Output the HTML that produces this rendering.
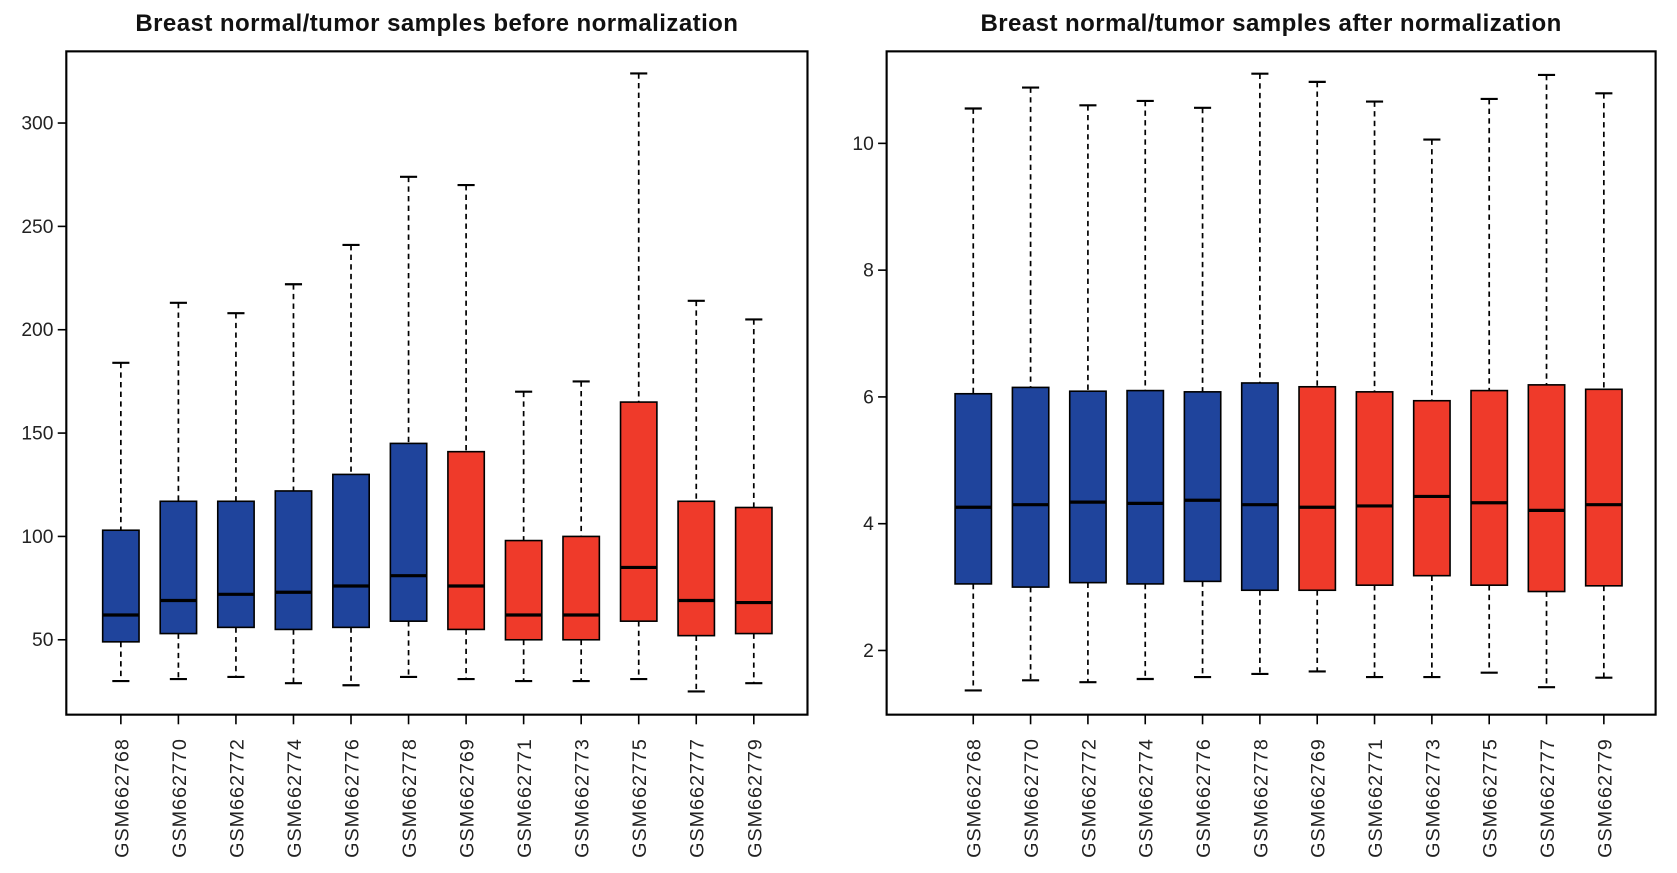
<!DOCTYPE html>
<html><head><meta charset="utf-8"><style>html,body{margin:0;padding:0;background:#fff}svg{display:block}</style></head>
<body>
<svg id="c" width="1677" height="873" viewBox="0 0 1568 816" preserveAspectRatio="none" xmlns="http://www.w3.org/2000/svg" font-family="'Liberation Sans', sans-serif"></svg>
<script>
const samples = ["GSM662768","GSM662770","GSM662772","GSM662774","GSM662776","GSM662778","GSM662769","GSM662771","GSM662773","GSM662775","GSM662777","GSM662779"];
const groups = ["normal","normal","normal","normal","normal","normal","tumor","tumor","tumor","tumor","tumor","tumor"];
const beforeLow = [30,31,32,29,28,32,31,30,30,31,25,29];
const beforeQ1 = [49,53,56,55,56,59,55,50,50,59,52,53];
const beforeMed = [62,69,72,73,76,81,76,62,62,85,69,68];
const beforeQ3 = [103,117,117,122,130,145,141,98,100,165,117,114];
const beforeHigh = [184,213,208,222,241,274,270,170,175,324,214,205];
const beforeTicks = [50,100,150,200,250,300];
const afterLow = [1.37,1.53,1.5,1.55,1.58,1.63,1.67,1.58,1.58,1.65,1.42,1.57];
const afterQ1 = [3.05,3.0,3.07,3.05,3.09,2.95,2.95,3.03,3.18,3.03,2.93,3.02];
const afterMed = [4.26,4.3,4.34,4.32,4.37,4.3,4.26,4.28,4.43,4.33,4.21,4.3];
const afterQ3 = [6.05,6.15,6.09,6.1,6.08,6.22,6.16,6.08,5.94,6.1,6.19,6.12];
const afterHigh = [10.55,10.88,10.6,10.67,10.56,11.1,10.97,10.66,10.06,10.7,11.08,10.79];
const afterTicks = [2,4,6,8,10];

const NS="http://www.w3.org/2000/svg", svg=document.getElementById('c');
function mk(tag,attrs,parent){const e=document.createElementNS(NS,tag);for(const k in attrs)e.setAttribute(k,attrs[k]);(parent||svg).appendChild(e);return e;}

function panel(cfg){
  const g=mk('g',{});
  
  
  const y=v=>cfg.y0px+(v-cfg.v0)*(cfg.y1px-cfg.y0px)/(cfg.v1-cfg.v0);
  const x=i=>cfg.xFirst+i*cfg.step;
  const t=mk('text',{x:(cfg.L+cfg.R)/2,y:29,'text-anchor':'middle','font-size':22.5,'font-weight':'bold','letter-spacing':0.4,fill:'#111'},g);
  t.textContent=cfg.title;
  
  
  const fr=mk('rect',{x:cfg.L,y:cfg.T,width:cfg.R-cfg.L,height:cfg.B-cfg.T,fill:'none',stroke:'#000','stroke-width':2},g);
  
  
  cfg.ticks.forEach(v=>{
    const yy=y(v);
    mk('line',{x1:cfg.L-8,x2:cfg.L,y1:yy,y2:yy,stroke:'#000','stroke-width':1.5},g);
    const tl=mk('text',{x:cfg.L-12,y:yy+6,'text-anchor':'end','font-size':18,fill:'#222'},g);
    tl.textContent=v;
    
    
  });
  samples.forEach((s,i)=>{
    const cx=x(i), w=17, col=groups[i]==='normal'?'#1f449c':'#ef3a2a';
    const bg=mk('g',{},g);
    
    
    mk('line',{x1:cx,x2:cx,y1:y(cfg.high[i]),y2:y(cfg.q3[i]),stroke:'#000','stroke-width':1.6,'stroke-dasharray':'5,4'},bg);
    mk('line',{x1:cx,x2:cx,y1:y(cfg.q1[i]),y2:y(cfg.low[i]),stroke:'#000','stroke-width':1.6,'stroke-dasharray':'5,4'},bg);
    mk('line',{x1:cx-8,x2:cx+8,y1:y(cfg.high[i]),y2:y(cfg.high[i]),stroke:'#000','stroke-width':2},bg);
    mk('line',{x1:cx-8,x2:cx+8,y1:y(cfg.low[i]),y2:y(cfg.low[i]),stroke:'#000','stroke-width':2},bg);
    mk('rect',{x:cx-w,y:y(cfg.q3[i]),width:2*w,height:y(cfg.q1[i])-y(cfg.q3[i]),fill:col,stroke:'#000','stroke-width':1.5},bg);
    mk('line',{x1:cx-w,x2:cx+w,y1:y(cfg.med[i]),y2:y(cfg.med[i]),stroke:'#000','stroke-width':3},bg);
    mk('line',{x1:cx,x2:cx,y1:cfg.B,y2:cfg.B+9,stroke:'#000','stroke-width':1.5},g);
    const lb=mk('text',{x:0,y:0,'text-anchor':'end','font-size':18.5,'letter-spacing':0.9,fill:'#222',transform:`translate(${cx+7},${cfg.B+22}) rotate(-90)`},g);
    lb.textContent=s;
    
    
  });
}
panel({name:'before-normalization-panel',title:'Breast normal/tumor samples before normalization',L:62,R:755,T:48,B:668,xFirst:113,step:53.8,v0:50,v1:300,y0px:598,y1px:115,ticks:beforeTicks,low:beforeLow,q1:beforeQ1,med:beforeMed,q3:beforeQ3,high:beforeHigh});
panel({name:'after-normalization-panel',title:'Breast normal/tumor samples after normalization',L:829,R:1548,T:48,B:668,xFirst:910,step:53.6,v0:2,v1:10,y0px:608,y1px:134,ticks:afterTicks,low:afterLow,q1:afterQ1,med:afterMed,q3:afterQ3,high:afterHigh});
</script>
</body></html>
